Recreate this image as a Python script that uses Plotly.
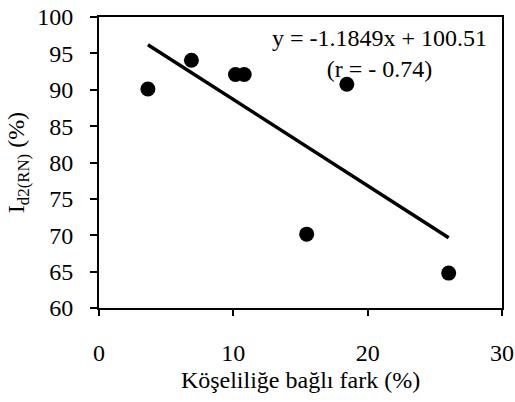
import plotly.graph_objects as go

x_vals = [3.64, 6.88, 10.16, 10.81, 15.46, 18.45, 26.03]
y_vals = [90.1, 94.05, 92.1, 92.1, 70.15, 90.75, 64.8]
slope = -1.1849
intercept = 100.51
x_ticks = [0, 10, 20, 30]
y_ticks = [60, 65, 70, 75, 80, 85, 90, 95, 100]

fit_x = [min(x_vals), max(x_vals)]
fit_y = [slope * v + intercept for v in fit_x]

font = "'Times New Roman', 'Liberation Serif', serif"

fig = go.Figure()
fig.add_trace(go.Scatter(x=fit_x, y=fit_y, mode="lines",
                         line=dict(color="black", width=3.5), showlegend=False))
fig.add_trace(go.Scatter(x=x_vals, y=y_vals, mode="markers",
                         marker=dict(color="black", size=15), showlegend=False))

fig.add_annotation(x=0.697, y=0.875, xref="paper", yref="paper",
                   xanchor="center", yanchor="middle",
                   text="y = -1.1849x + 100.51<br>(r = - 0.74)",
                   showarrow=False, align="center",
                   font=dict(family=font, size=24, color="black"))

fig.update_layout(
    width=515, height=402, autosize=False,
    margin=dict(l=99, r=13, t=17, b=94),
    plot_bgcolor="white", paper_bgcolor="white",
    font=dict(family=font, size=24, color="black"),
    xaxis=dict(range=[0, 30], tickvals=x_ticks, showgrid=False, zeroline=False,
               automargin=False,
               showline=True, linecolor="black", linewidth=2, mirror=True,
               ticks="outside", ticklen=6, tickwidth=1.5, tickcolor="black",
               ticklabelstandoff=16, tickfont=dict(family=font, size=24),
               title=dict(text="Köşeliliğe bağlı fark (%)", standoff=6,
                          font=dict(family=font, size=24))),
    yaxis=dict(range=[60, 100], tickvals=y_ticks, showgrid=False, zeroline=False,
               automargin=False,
               showline=True, linecolor="black", linewidth=2, mirror=True,
               ticks="outside", ticklen=7, tickwidth=1.5, tickcolor="black",
               ticklabelstandoff=12, tickfont=dict(family=font, size=24),
               title=dict(text="I<sub>d2(RN)</sub> (%)", standoff=6,
                          font=dict(family=font, size=24))),
)

fig.write_html("out.html", config={"displayModeBar": False},
               post_script="document.body.style.margin='0';")
